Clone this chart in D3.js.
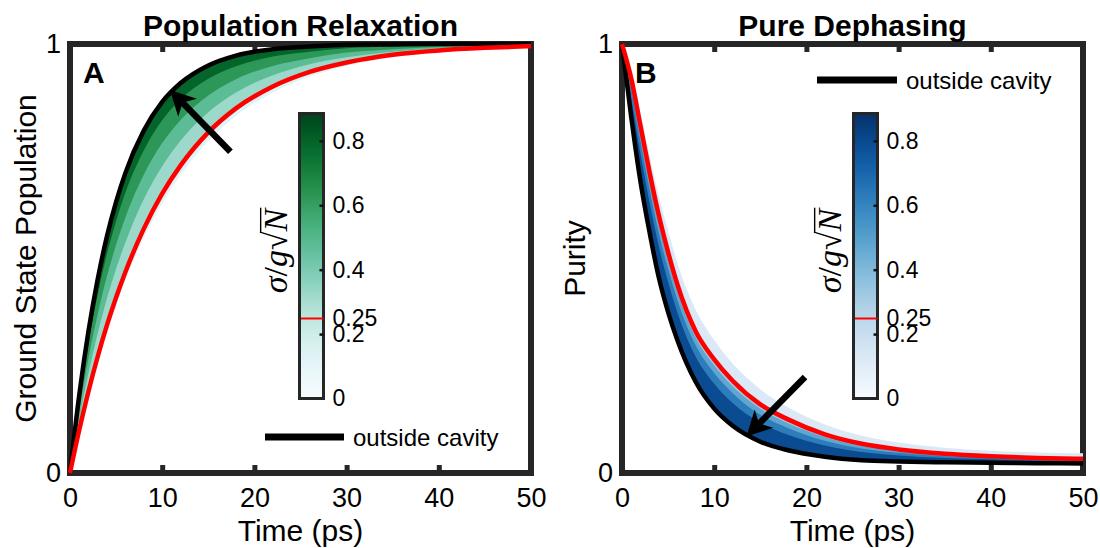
<!DOCTYPE html>
<html lang="en">
<head>
<meta charset="UTF-8">
<title>Population Relaxation / Pure Dephasing</title>
<script src="https://cdn.jsdelivr.net/npm/d3@7"></script>
<style>
    body { margin: 0; background: #fff; }
    text { font-family: "Liberation Sans", Arial, sans-serif; fill: #000; }
</style>
</head>
<body>
<svg id="chart" width="1100" height="548"></svg>
<script>
/** data */
const timePs = [0, 1, 2, 3, 4, 5, 6, 8, 10, 12, 15, 18, 22, 26, 30, 35, 40, 45, 50]
const sigmaLevels = [0, 0.25, 0.4, 0.55, 0.7]
const sigmaMax = 0.885

// panel A : ground state population
const popOutside  = [0, .181, .330, .451, .551, .632, .699, .798, .865, .909, .950, .973, .988, .994, .998, .999, 1, 1, 1]
const popSigma000 = [0, .094, .180, .257, .327, .390, .448, .547, .628, .695, .774, .832, .887, .924, .949, .969, .981, .988, .993]
const popSigma025 = [0, .100, .190, .271, .344, .409, .468, .569, .651, .717, .794, .850, .901, .935, .957, .975, .985, .991, .995]
const popSigma040 = [0, .124, .232, .325, .406, .476, .537, .638, .715, .775, .841, .887, .927, .953, .969, .982, .990, .994, .997]
const popSigma055 = [0, .145, .267, .370, .458, .532, .595, .695, .769, .823, .880, .918, .949, .967, .980, .988, .993, .996, .998]
const popSigma070 = [0, .165, .302, .415, .510, .587, .653, .752, .822, .871, .919, .948, .971, .982, .990, .994, .997, .998, .999]

// panel B : purity
const purOutside  = [1, .83, .68, .56, .455, .375, .31, .212, .150, .110, .073, .053, .038, .030, .027, .025, .024, .023, .022]
const purSigma000 = [1, .94, .84, .74, .645, .565, .49, .38, .31, .255, .195, .153, .113, .087, .071, .059, .052, .048, .046]
const purSigma025 = [1, .92, .81, .70, .60, .515, .44, .33, .265, .215, .160, .125, .090, .068, .055, .045, .039, .035, .033]
const purSigma040 = [1, .909, .794, .683, .583, .498, .424, .316, .251, .202, .150, .116, .084, .063, .052, .043, .037, .034, .032]
const purSigma055 = [1, .895, .774, .661, .559, .476, .404, .297, .233, .186, .136, .105, .075, .057, .047, .039, .035, .032, .030]
const purSigma070 = [1, .875, .745, .630, .528, .445, .375, .271, .208, .163, .117, .089, .064, .049, .041, .035, .032, .029, .028]

// arrows [tail, tip] in data units (ps, value)
const arrowPop = [[17.4, 0.749], [10.85, 0.893]]
const arrowPur = [[19.85, 0.224], [13.5, 0.085]]

const xTicks = [0, 10, 20, 30, 40, 50]
const yTicks = [0, 1]
const cbTicks = [0, 0.2, 0.25, 0.4, 0.6, 0.8]
const cbTickLabels = ['0', '0.2', '0.25', '0.4', '0.6', '0.8']

/** layout */
const svg = d3.select('#chart')
const axisCol = '#262626'
const plotTop = 44, plotBottom = 473
const cbTop = 112, cbBottom = 400, cbW = 24

const panels = [
    {
        letter: 'A', title: 'Population Relaxation', yLabel: 'Ground State Population',
        left: 70, right: 531, yLabelX: 36, cbX: 299.5,
        curves: [popSigma000, popSigma025, popSigma040, popSigma055, popSigma070],
        outside: popOutside, interp: d3.interpolateBuGn, arrow: arrowPop,
        legend: {x1: 265, x2: 344, y: 437}
    },
    {
        letter: 'B', title: 'Pure Dephasing', yLabel: 'Purity',
        left: 622, right: 1083, yLabelX: 585, cbX: 853.5,
        curves: [purSigma000, purSigma025, purSigma040, purSigma055, purSigma070],
        outside: purOutside, interp: d3.interpolateBlues, arrow: arrowPur,
        legend: {x1: 817, x2: 897, y: 80}
    }
]

const defs = svg.append('defs')

panels.forEach(function(p, pi) {
    let x = d3.scaleLinear().domain([0, 50]).range([p.left, p.right])
    let y = d3.scaleLinear().domain([0, 1]).range([plotBottom, plotTop])
    let color = d3.scaleSequential(p.interp).domain([0, sigmaMax])
    let g = svg.append('g')

    // axes box
    g.append('rect')
        .attr('x', p.left).attr('y', plotTop)
        .attr('width', p.right - p.left).attr('height', plotBottom - plotTop)
        .attr('fill', 'none').attr('stroke', axisCol).attr('stroke-width', 6)

    // bands: each sigma level filled up to the outside-cavity curve, darker ones on top
    let upper = sigmaLevels.map((s, i) => i < sigmaLevels.length - 1 ? sigmaLevels[i + 1] : sigmaMax)
    p.curves.forEach(function(c, i) {
        let area = d3.area()
            .x((d, j) => x(timePs[j]))
            .y0((d, j) => y(c[j]))
            .y1((d, j) => y(p.outside[j]))
            .curve(d3.curveMonotoneX)
        g.append('path')
            .datum(c)
            .attr('d', area)
            .attr('fill', color((sigmaLevels[i] + upper[i]) / 2))
    })

    let line = d3.line()
        .x((d, j) => x(timePs[j]))
        .y(d => y(d))
        .curve(d3.curveMonotoneX)

    g.append('path').datum(p.outside).attr('d', line)
        .attr('fill', 'none').attr('stroke', '#000').attr('stroke-width', 4.5)
    g.append('path').datum(p.curves[1]).attr('d', line)
        .attr('fill', 'none').attr('stroke', '#ff0000').attr('stroke-width', 4.5)

    // x axis (inward ticks, bottom and top)
    let xb = g.append('g').attr('transform', 'translate(0,' + plotBottom + ')')
        .call(d3.axisBottom(x).tickValues(xTicks).tickSizeInner(-8).tickSizeOuter(0).tickPadding(15))
    let xt = g.append('g').attr('transform', 'translate(0,' + plotTop + ')')
        .call(d3.axisTop(x).tickValues(xTicks.slice(1, -1)).tickSizeInner(-8).tickSizeOuter(0).tickFormat(''))
    let yl = g.append('g').attr('transform', 'translate(' + p.left + ',0)')
        .call(d3.axisLeft(y).tickValues(yTicks).tickSize(0).tickPadding(9).tickFormat(d3.format('d')))
    ;[xb, xt, yl].forEach(a => {
        a.select('.domain').remove()
        a.selectAll('line').attr('stroke', axisCol).attr('stroke-width', 5)
        a.selectAll('text').attr('font-size', 27).attr('fill', '#000')
            .style('font-family', '"Liberation Sans", Arial, sans-serif')
    })
    xt.lower(); xb.lower(); xb.selectAll('text').raise()

    // axis titles
    svg.append('text')
        .attr('x', (p.left + p.right) / 2).attr('y', 541)
        .attr('text-anchor', 'middle').attr('font-size', 30)
        .text('Time (ps)')
    svg.append('text')
        .attr('transform', 'translate(' + p.yLabelX + ',' + (plotTop + plotBottom) / 2 + ') rotate(-90)')
        .attr('text-anchor', 'middle').attr('font-size', 30)
        .text(p.yLabel)
    svg.append('text')
        .attr('x', (p.left + p.right) / 2).attr('y', 36)
        .attr('text-anchor', 'middle').attr('font-size', 30).attr('font-weight', 'bold')
        .text(p.title)
    svg.append('text')
        .attr('x', p.left + 13).attr('y', 83)
        .attr('font-size', 30).attr('font-weight', 'bold')
        .text(p.letter)

    // arrow
    let tail = [x(p.arrow[0][0]), y(p.arrow[0][1])]
    let tip = [x(p.arrow[1][0]), y(p.arrow[1][1])]
    let dx = tip[0] - tail[0], dy = tip[1] - tail[1]
    let len = Math.hypot(dx, dy)
    let u = [dx / len, dy / len], n = [-u[1], u[0]]
    let headL = 25, headW = 13, notch = 7
    let base = [tip[0] - u[0] * headL, tip[1] - u[1] * headL]
    let back = [tip[0] - u[0] * (headL - notch), tip[1] - u[1] * (headL - notch)]
    g.append('line')
        .attr('x1', tail[0]).attr('y1', tail[1]).attr('x2', back[0]).attr('y2', back[1])
        .attr('stroke', '#000').attr('stroke-width', 6.5)
    g.append('path')
        .attr('d', 'M' + tip + 'L' + [base[0] + n[0] * headW, base[1] + n[1] * headW] +
            'L' + back + 'L' + [base[0] - n[0] * headW, base[1] - n[1] * headW] + 'Z')
        .attr('fill', '#000')

    // legend
    g.append('line')
        .attr('x1', p.legend.x1).attr('x2', p.legend.x2)
        .attr('y1', p.legend.y).attr('y2', p.legend.y)
        .attr('stroke', '#000').attr('stroke-width', 7)
    g.append('text')
        .attr('x', p.legend.x2 + 9).attr('y', p.legend.y + 8.5)
        .attr('font-size', 24)
        .text('outside cavity')

    // colorbar
    let grad = defs.append('linearGradient')
        .attr('id', 'cbGrad' + pi)
        .attr('x1', 0).attr('y1', 1).attr('x2', 0).attr('y2', 0)
    d3.range(0, 1.0001, 0.05).forEach(f => {
        grad.append('stop').attr('offset', f).attr('stop-color', color(f * sigmaMax))
    })
    let cbScale = d3.scaleLinear().domain([0, sigmaMax]).range([cbBottom - 1.5, cbTop + 1.5])
    g.append('rect')
        .attr('x', p.cbX).attr('y', cbTop + 1.5)
        .attr('width', cbW).attr('height', cbBottom - cbTop - 3)
        .attr('fill', 'url(#cbGrad' + pi + ')')
        .attr('stroke', axisCol).attr('stroke-width', 3)
    let cbAxis = g.append('g')
        .attr('transform', 'translate(' + (p.cbX + cbW) + ',0)')
        .call(d3.axisRight(cbScale).tickValues(cbTicks).tickSizeInner(-4).tickSizeOuter(0).tickPadding(9)
            .tickFormat((d, i) => cbTickLabels[i]))
    cbAxis.select('.domain').remove()
    cbAxis.selectAll('text').attr('font-size', 23).attr('fill', '#000')
        .style('font-family', '"Liberation Sans", Arial, sans-serif')
    cbAxis.selectAll('line').attr('stroke', '#111').attr('stroke-width', 2.5)
    cbAxis.selectAll('.tick').filter(d => d === 0).select('line').remove()
    cbAxis.selectAll('.tick').filter(d => d === 0.25).select('line')
        .attr('x2', -cbW + 1.5).attr('stroke', '#ff0000').attr('stroke-width', 2)

    // colorbar label  sigma / g sqrt(N)
    let fs = 34
    let lg = g.append('g')
        .attr('transform', 'translate(' + (p.cbX - 13) + ',' + ((cbTop + cbBottom) / 2 - 5) + ') rotate(-90)')
    let cbLabel = lg.append('text')
        .attr('text-anchor', 'middle')
        .style('font-family', '"Liberation Serif", "Times New Roman", serif')
        .attr('font-size', fs)
    cbLabel.append('tspan').attr('font-style', 'italic').text('σ')
    cbLabel.append('tspan').text('/')
    cbLabel.append('tspan').attr('font-style', 'italic').text('g')
    cbLabel.append('tspan').text('√')
    cbLabel.append('tspan').attr('font-style', 'italic').text('N')
    let node = cbLabel.node()
    let rad = node.getExtentOfChar(3), nn = node.getExtentOfChar(4)
    lg.append('line')
        .attr('x1', rad.x + rad.width - 1.5).attr('x2', nn.x + nn.width + 1)
        .attr('y1', -0.76 * fs).attr('y2', -0.76 * fs)
        .attr('stroke', '#000').attr('stroke-width', 1.4)
})
</script>
</body>
</html>
